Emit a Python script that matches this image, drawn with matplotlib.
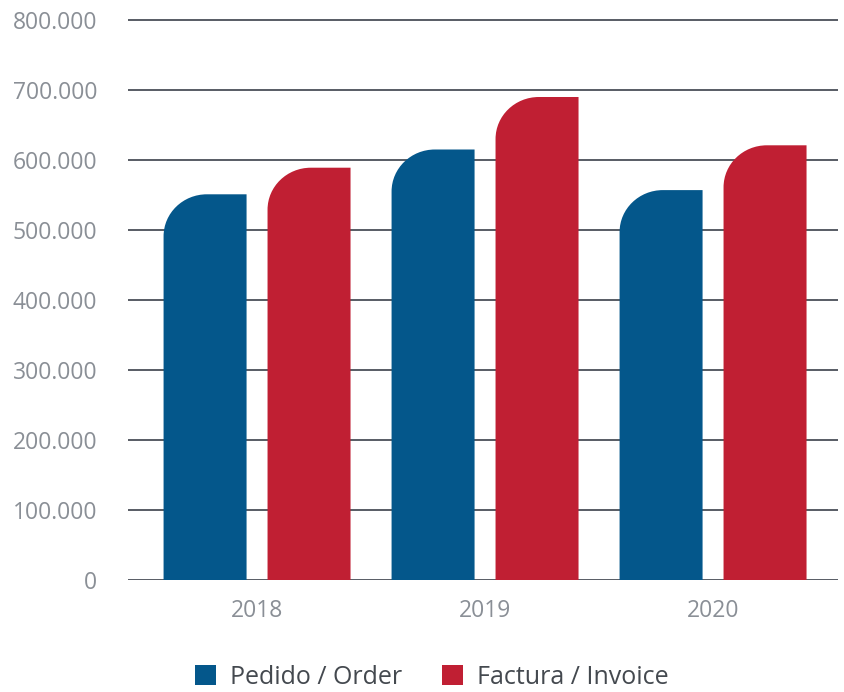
import numpy as np
import matplotlib
matplotlib.use("Agg")
import matplotlib.pyplot as plt
from matplotlib.path import Path
from matplotlib.patches import PathPatch, Patch
import matplotlib.ticker as ticker

# Datos
years = ["2018", "2019", "2020"]
pedido = [551000, 615000, 557000]
factura = [589000, 690000, 621000]
labels = ["Pedido / Order", "Factura / Invoice"]
colors = ["#04578b", "#c01f33"]

plt.rcParams['font.family'] = ['Open Sans', 'DejaVu Sans']

fig = plt.figure(figsize=(8.45, 6.92), dpi=100)
ax = fig.add_axes([128 / 845, 1 - 580 / 692, 710 / 845, 563.5 / 692])

x = np.arange(len(years))
width = 0.364
offset = 0.228


def rounded_bar(ax, xc, h, w, color, rx=0.19, ry=60000):
    # barra con solo la esquina superior izquierda redondeada
    x0, x1 = xc - w / 2, xc + w / 2
    k = 0.5523
    verts = [
        (x0, 0), (x1, 0), (x1, h), (x0 + rx, h),
        (x0 + rx - k * rx, h), (x0, h - ry + k * ry), (x0, h - ry),
        (x0, 0), (x0, 0),
    ]
    codes = [Path.MOVETO, Path.LINETO, Path.LINETO, Path.LINETO,
             Path.CURVE4, Path.CURVE4, Path.CURVE4,
             Path.LINETO, Path.CLOSEPOLY]
    ax.add_patch(PathPatch(Path(verts, codes), facecolor=color, edgecolor='none', zorder=3))


for i in range(len(years)):
    rounded_bar(ax, x[i] - offset, pedido[i], width, colors[0])
    rounded_bar(ax, x[i] + offset, factura[i], width, colors[1])

ax.set_xlim(-0.566, 2.548)
ax.set_ylim(0, 805000)
ax.set_xticks(x)
ax.set_xticklabels(years)
ax.set_yticks(np.arange(0, 800001, 100000))
ax.yaxis.set_major_formatter(ticker.FuncFormatter(lambda v, _: f"{v:,.0f}".replace(",", ".")))

ax.grid(axis='y', color='#4a4f58', linewidth=1.3, zorder=1)
for s in ax.spines.values():
    s.set_visible(False)
ax.tick_params(axis='both', length=0, labelsize=16.5, labelcolor='#8a8f96')
ax.tick_params(axis='y', pad=22)
ax.tick_params(axis='x', pad=14)

handles = [Patch(facecolor=c, edgecolor='none') for c in colors]
fig.legend(handles, labels, loc='center', bbox_to_anchor=(432 / 845, 1 - 677 / 692),
           ncol=2, frameon=False, fontsize=18, labelcolor='#44494f',
           handlelength=0.85, handleheight=0.85, handletextpad=0.55, columnspacing=1.6)

fig.savefig("out.png", dpi=100)
